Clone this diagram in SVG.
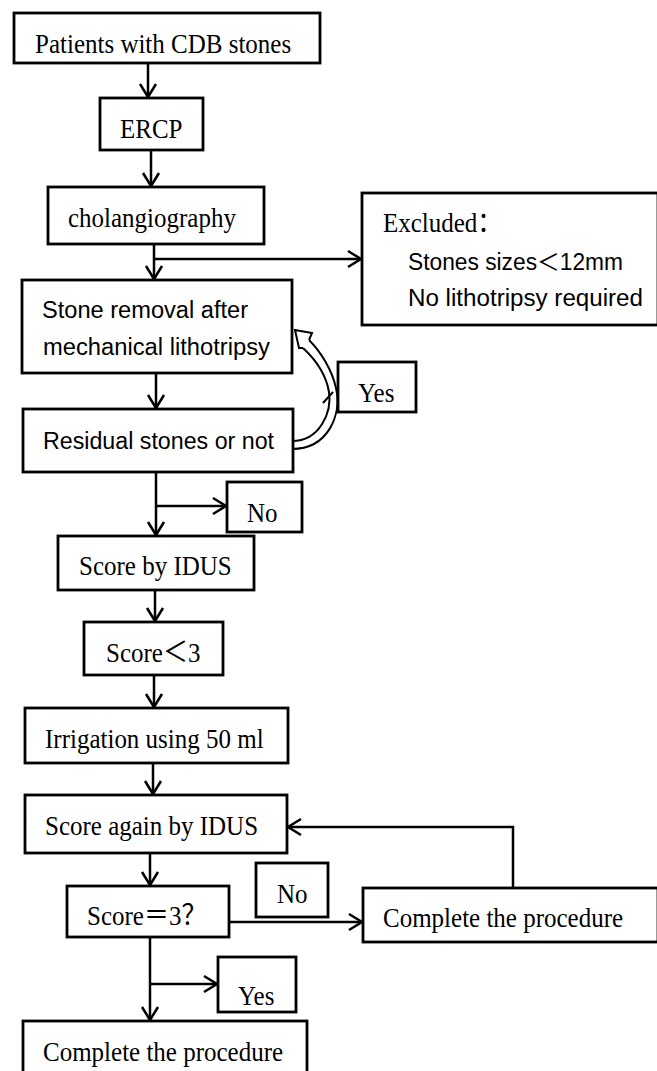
<svg xmlns="http://www.w3.org/2000/svg" width="657" height="1071" viewBox="0 0 657 1071">
<style>
.box{fill:#fff;stroke:#000;stroke-width:2.8}
.ln{fill:none;stroke:#000;stroke-width:2.5}
.s{font-family:"Liberation Serif","Noto Sans CJK SC",serif;font-size:25px;fill:#000}
.ss{font-family:"Liberation Sans","Noto Sans CJK SC",sans-serif;font-size:23px;fill:#000}
</style>
<defs>
<marker id="v" markerUnits="userSpaceOnUse" markerWidth="20" markerHeight="20" viewBox="-15 -10 17 20" refX="0" refY="0" orient="auto">
<path d="M-13,-8 L0,0 L-13,8" fill="none" stroke="#000" stroke-width="2.5"/>
</marker>
</defs>
<rect width="657" height="1071" fill="#fff"/>
<g id="connectors">
<line class="ln" x1="148" y1="63" x2="148" y2="97" marker-end="url(#v)"/>
<line class="ln" x1="151" y1="150" x2="151" y2="186" marker-end="url(#v)"/>
<line class="ln" x1="154" y1="244" x2="154" y2="279" marker-end="url(#v)"/>
<line class="ln" x1="154" y1="259" x2="361" y2="259" marker-end="url(#v)"/>
<line class="ln" x1="156" y1="373" x2="156" y2="408" marker-end="url(#v)"/>
<line class="ln" x1="156" y1="472" x2="156" y2="535" marker-end="url(#v)"/>
<line class="ln" x1="156" y1="506" x2="226" y2="506" marker-end="url(#v)"/>
<line class="ln" x1="155" y1="590" x2="155" y2="621" marker-end="url(#v)"/>
<line class="ln" x1="154" y1="675" x2="154" y2="707" marker-end="url(#v)"/>
<line class="ln" x1="153" y1="763" x2="153" y2="794" marker-end="url(#v)"/>
<line class="ln" x1="150" y1="853" x2="150" y2="885" marker-end="url(#v)"/>
<line class="ln" x1="229" y1="922" x2="362" y2="922" marker-end="url(#v)"/>
<polyline class="ln" points="513,888 513,827 288,827" marker-end="url(#v)"/>
<line class="ln" x1="150" y1="937" x2="150" y2="1020" marker-end="url(#v)"/>
<line class="ln" x1="150" y1="984" x2="217" y2="984" marker-end="url(#v)"/>
<g id="yes-loop" fill="none" stroke="#000" stroke-width="2">
<path d="M292,449 C328,449 342,415 336,388 C332,370 321,352 309,340"/>
<path d="M292,441 C320,441 332,412 329,392 C326,374 316,360 303,348"/>
<path d="M309,340 L312,333 L295,330 L299,348 L303,348" fill="#fff"/>
<path d="M323,403 L333,392"/>
</g>
</g>
<g id="n1"><rect class="box" x="14" y="13" width="306" height="50"/><text class="s" transform="translate(35,53) scale(1,1.12)">Patients with CDB stones</text></g>
<g id="n2"><rect class="box" x="100" y="98" width="103" height="52"/><text class="s" transform="translate(120,138) scale(1,1.12)">ERCP</text></g>
<g id="n3"><rect class="box" x="48" y="187" width="216" height="57"/><text class="s" transform="translate(68,227) scale(1,1.12)">cholangiography</text></g>
<g id="n4"><rect class="box" x="362" y="193" width="296" height="132"/>
<text class="s" transform="translate(383,232) scale(1,1.12)">Excluded：</text>
<text class="ss" x="408" y="270" textLength="215" lengthAdjust="spacingAndGlyphs">Stones sizes＜12mm</text>
<text class="ss" x="408" y="306" textLength="235" lengthAdjust="spacingAndGlyphs">No lithotripsy required</text></g>
<g id="n5"><rect class="box" x="22" y="280" width="270" height="93"/>
<text class="ss" x="42" y="318" textLength="206" lengthAdjust="spacingAndGlyphs">Stone removal after</text>
<text class="ss" x="43" y="355" textLength="227" lengthAdjust="spacingAndGlyphs">mechanical lithotripsy</text></g>
<g id="n6"><rect class="box" x="23" y="409" width="270" height="63"/>
<text class="ss" x="43" y="449" textLength="231" lengthAdjust="spacingAndGlyphs">Residual stones or not</text></g>
<g id="n7"><rect class="box" x="338" y="362" width="78" height="50"/><text class="s" transform="translate(358,402) scale(1,1.12)">Yes</text></g>
<g id="n8"><rect class="box" x="227" y="482" width="75" height="50"/><text class="s" transform="translate(247,522) scale(1,1.12)">No</text></g>
<g id="n9"><rect class="box" x="58" y="536" width="196" height="54"/><text class="s" transform="translate(79,575) scale(1,1.12)">Score by IDUS</text></g>
<g id="n10"><rect class="box" x="84" y="622" width="139" height="53"/><text class="s" transform="translate(106,662) scale(1,1.12)">Score＜3</text></g>
<g id="n11"><rect class="box" x="25" y="708" width="263" height="55"/><text class="s" transform="translate(45,748) scale(1,1.12)">Irrigation using 50 ml</text></g>
<g id="n12"><rect class="box" x="25" y="795" width="262" height="58"/><text class="s" transform="translate(45,835) scale(1,1.12)">Score again by IDUS</text></g>
<g id="n13"><rect class="box" x="67" y="886" width="162" height="51"/><text class="s" transform="translate(87,925) scale(1,1.12)">Score＝3？</text></g>
<g id="n14"><rect class="box" x="256" y="863" width="72" height="54"/><text class="s" transform="translate(277,903) scale(1,1.12)">No</text></g>
<g id="n15"><rect class="box" x="363" y="888" width="295" height="54"/><text class="s" transform="translate(383,927) scale(1,1.12)">Complete the procedure</text></g>
<g id="n16"><rect class="box" x="218" y="957" width="78" height="55"/><text class="s" transform="translate(238,1005) scale(1,1.12)">Yes</text></g>
<g id="n17"><rect class="box" x="23" y="1021" width="284" height="60"/><text class="s" transform="translate(43,1061) scale(1,1.12)">Complete the procedure</text></g>
</svg>
